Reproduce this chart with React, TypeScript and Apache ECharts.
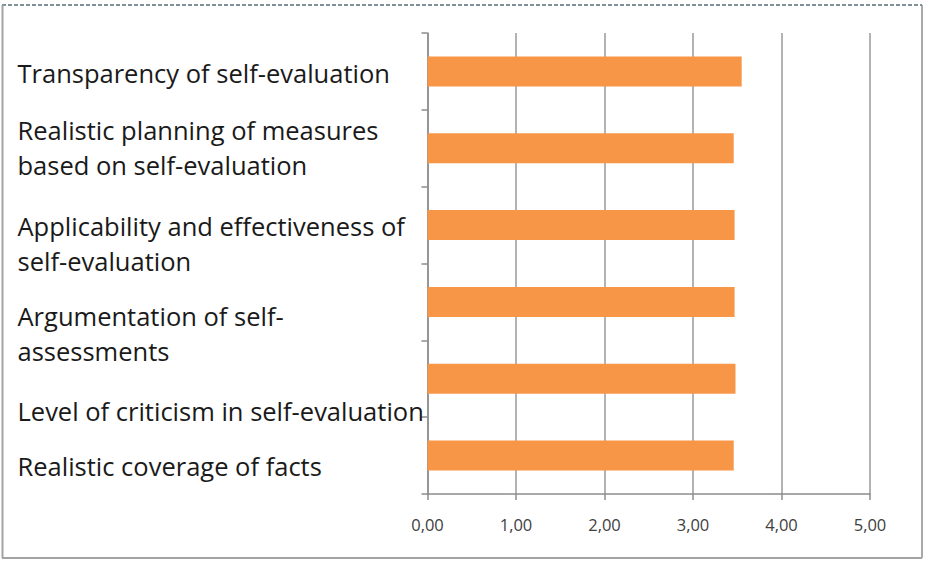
import React, { useEffect, useRef } from "react";
import * as echarts from "echarts";

// Criteria (top to bottom) and their mean scores
const categories: string[] = [
  "Transparency of self-evaluation",
  "Realistic planning of measures\nbased on self-evaluation",
  "Applicability and effectiveness of\nself-evaluation",
  "Argumentation of self-\nassessments",
  "Level of criticism in self-evaluation",
  "Realistic coverage of facts",
];
const scores: number[] = [3.55, 3.46, 3.47, 3.47, 3.48, 3.46];
const xTicks: number[] = [0, 1, 2, 3, 4, 5];

// Vertical nudges for the category labels (px, downward)
const labelNudge: number[] = [2, 0, 19, 32, 33, 11];

const LABEL_FONT = 25.5;
const LABEL_LINE = 35;

export default function App() {
  const ref = useRef<HTMLDivElement>(null);

  useEffect(() => {
    if (!ref.current) return;
    const chart = echarts.init(ref.current, undefined, { renderer: "svg" });
    const borderGray = "#a3a3a3";

    // Every line is bottom-aligned in its line box; the first line's box height
    // carries the per-category nudge.
    const base = {
      fontFamily: "Open Sans",
      fontSize: LABEL_FONT,
      color: "#1a1a1a",
      align: "left",
      verticalAlign: "bottom",
    };
    const rich: Record<string, any> = { r: { ...base, lineHeight: LABEL_LINE } };
    labelNudge.forEach((n, i) => {
      rich[`f${i}`] = { ...base, lineHeight: LABEL_LINE + 2 * (n - 5) };
    });

    chart.setOption({
      animation: false,
      backgroundColor: "#ffffff",
      grid: {
        left: 427.5,
        right: 56,
        top: 33,
        bottom: 67,
        containLabel: false,
        outerBoundsMode: "none",
      },
      xAxis: {
        type: "value",
        min: xTicks[0],
        max: xTicks[xTicks.length - 1],
        interval: 1,
        axisLine: { show: true, lineStyle: { color: "#8c8c8c", width: 1.5 } },
        axisTick: { show: true, length: 6, lineStyle: { color: "#8c8c8c", width: 1.5 } },
        axisLabel: {
          margin: 22,
          fontFamily: "Open Sans",
          fontSize: 16.5,
          color: "#404040",
          formatter: (v: number) => v.toFixed(2).replace(".", ","),
        },
        splitLine: { show: true, lineStyle: { color: "#9a9a9a", width: 1.5 } },
      },
      yAxis: {
        type: "category",
        inverse: true,
        data: categories,
        axisLine: { show: true, lineStyle: { color: "#8c8c8c", width: 1.5 } },
        axisTick: { show: true, length: 6, lineStyle: { color: "#8c8c8c", width: 1.5 } },
        axisLabel: {
          interval: 0,
          align: "left",
          margin: 410,
          fontFamily: "Open Sans",
          fontSize: LABEL_FONT,
          lineHeight: LABEL_LINE,
          color: "#1a1a1a",
          formatter: (value: string, index: number) =>
            value
              .split("\n")
              .map((line, k) => (k === 0 ? `{f${index}|${line}}` : `{r|${line}}`))
              .join("\n"),
          rich,
        },
        splitLine: { show: false },
      },
      series: [
        {
          type: "bar",
          data: scores,
          barWidth: 30,
          itemStyle: { color: "#f79646" },
        },
      ],
      graphic: [
        {
          type: "line",
          shape: { x1: 2, y1: 5, x2: 922, y2: 5 },
          style: { stroke: "#7f9096", lineWidth: 2, lineDash: [4, 2] },
        },
        {
          type: "line",
          shape: { x1: 2.5, y1: 5, x2: 2.5, y2: 558 },
          style: { stroke: borderGray, lineWidth: 2 },
        },
        {
          type: "line",
          shape: { x1: 922, y1: 5, x2: 922, y2: 558 },
          style: { stroke: "#8c8c8c", lineWidth: 1.5 },
        },
        {
          type: "line",
          shape: { x1: 2, y1: 558, x2: 922, y2: 558 },
          style: { stroke: borderGray, lineWidth: 2 },
        },
      ],
    });

    return () => chart.dispose();
  }, []);

  return (
    <div
      ref={ref}
      style={{ position: "fixed", left: 0, top: 0, width: 926, height: 561 }}
    />
  );
}
